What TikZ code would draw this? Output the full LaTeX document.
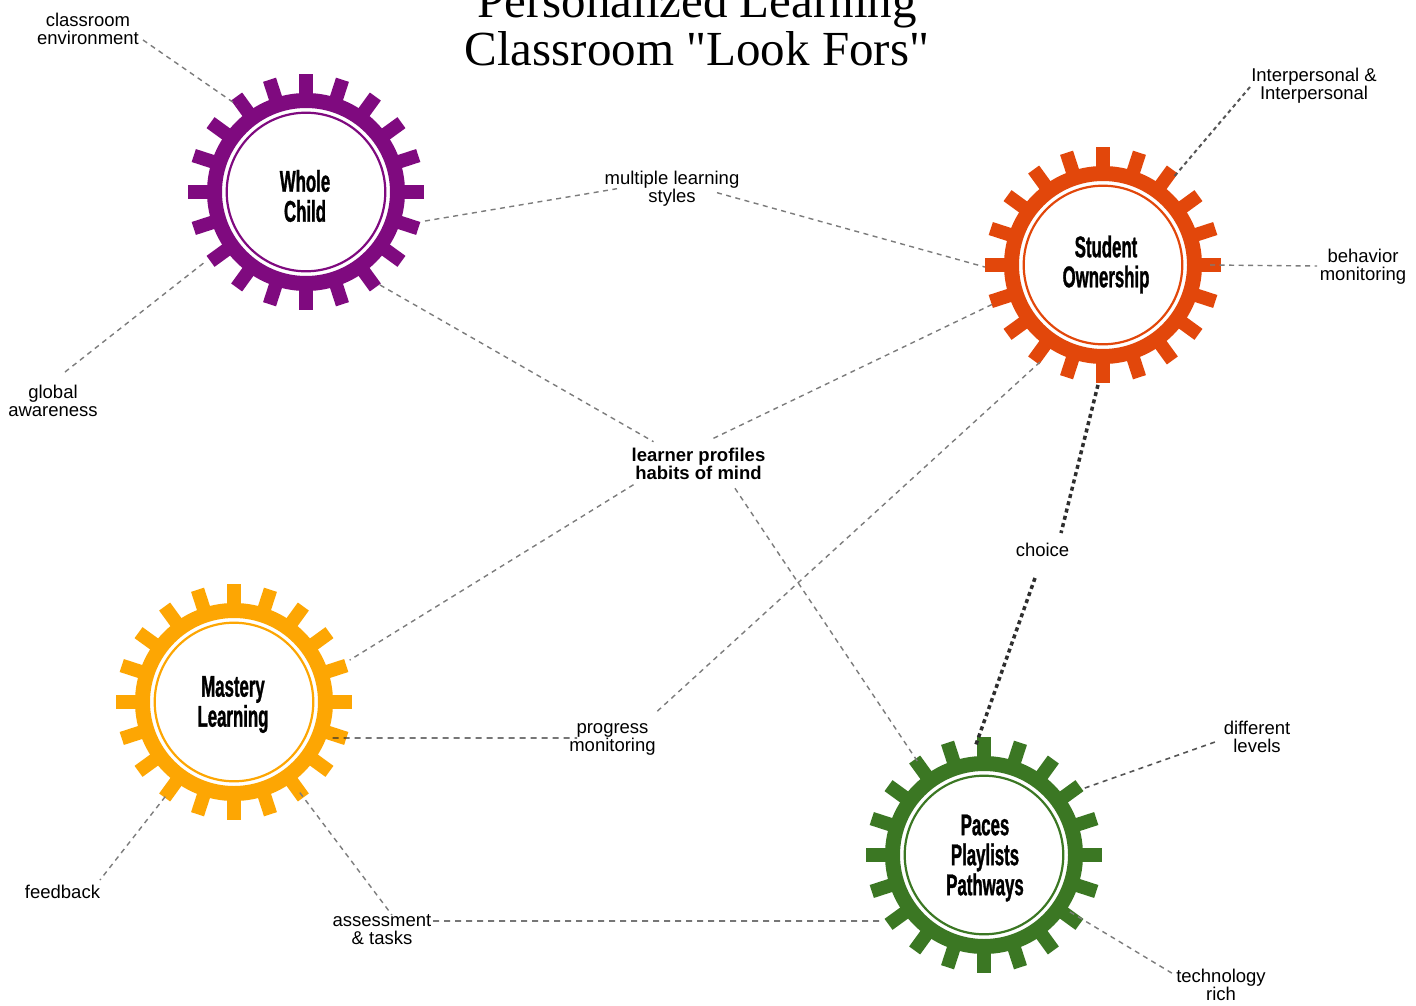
\documentclass[tikz,border=0pt]{standalone}
\usepackage{fontspec}
\setmainfont{Liberation Sans}
\newfontfamily\titlefont{Liberation Serif}
\newfontfamily\gearfont{Liberation Sans}[FakeStretch=0.56,FakeBold=1]
\usetikzlibrary{calc}
\definecolor{cpurple}{HTML}{7F0A7F}
\definecolor{cred}{HTML}{E2470B}
\definecolor{cyellow}{HTML}{FDA603}
\definecolor{cgreen}{HTML}{3B7723}
\definecolor{lgray}{HTML}{7C7C7C}
\definecolor{dgray}{HTML}{2E2E2E}
\definecolor{mgray}{HTML}{555555}
\newcommand\gearshape[2]{%
  \begin{scope}[shift={(#1.center)}]
    \foreach \a in {0,18,...,342}{\fill[#2,rotate=\a] (95,-6.8) rectangle (118,6.8);}
    \fill[#2,even odd rule] (0,0) circle (99) (0,0) circle (84);
    \draw[#2,line width=2.2pt] (0,0) circle (79.3);
  \end{scope}}
\tikzset{
  gearnode/.style={circle,minimum size=236pt,inner sep=0pt},
  geartext/.style={font=\gearfont\bfseries\fontsize{30}{30}\selectfont,align=center,inner sep=0pt},
  lbl/.style={font=\fontsize{18.5}{18}\selectfont,align=center,inner sep=0pt},
  blbl/.style={font=\bfseries\fontsize{18.5}{18.5}\selectfont,align=center,inner sep=0pt},
  conn/.style={draw=lgray,line width=1.4pt,dash pattern=on 5pt off 4.5pt},
  dconn/.style={draw=dgray,line width=1.3pt,dash pattern=on 6pt off 5pt},
  ipconn/.style={draw=mgray,line width=2pt,dash pattern=on 4pt off 3.5pt},
  chconn/.style={draw=dgray,line width=3.5pt,dash pattern=on 4pt off 3.5pt},
}
\begin{document}
\begin{tikzpicture}[x=1pt,y=-1pt]
\fill[white] (0,0) rectangle (1416,1006);
\useasboundingbox (0,0) rectangle (1416,1006);

% title
\node[font=\titlefont\fontsize{49}{48}\selectfont,align=center,inner sep=0pt] (title) at (697,25) {Personalized Learning\\Classroom "Look Fors"};

% gears
\node[gearnode] (wc) at (306,192) {};
\node[gearnode] (so) at (1103,265) {};
\node[gearnode] (ml) at (234,702) {};
\node[gearnode] (pp) at (984,855) {};
\gearshape{wc}{cpurple}
\gearshape{so}{cred}
\gearshape{ml}{cyellow}
\gearshape{pp}{cgreen}
\node[geartext] (wct) at (305,196) {Whole\\Child};
\node[geartext] (sot) at (1106,264.5) {Student\\Ownership};
\node[geartext] (mlt) at (233,704.5) {Mastery\\Learning};
\node[geartext] (ppt) at (985,858) {Paces\\Playlists\\Pathways};

% labels
\node[lbl] (ce) at (88,28.5) {classroom\\environment};
\node[lbl] (ga) at (53,401) {global\\awareness};
\node[lbl] (mls) at (672,188.7) {multiple learning\\styles};
\node[blbl] (lp) at (698.5,463.7) {learner profiles\\habits of mind};
\node[lbl] (il) at (1314,86) {Interpersonal \&\\Interpersonal};
\node[lbl] (bm) at (1363,267) {behavior\\monitoring};
\node[lbl] (ch) at (1042.5,549.5) {choice};
\node[lbl] (pm) at (612.5,739.3) {progress\\monitoring};
\node[lbl] (fb) at (62.5,891.5) {feedback};
\node[lbl] (at) at (382,930) {assessment\\\& tasks};
\node[lbl] (dl) at (1257,736.5) {different\\levels};
\node[lbl] (tr) at (1221,985) {technology\\rich};

% connectors
\draw[conn] ($(ce.center)+(55,11.5)$) -- ($(wc.center)+(-128.4:111)$);
\draw[conn] ($(ga.center)+(12,-29)$) -- ($(wc.center)+(145.3:123)$);
\draw[conn] ($(wc.center)+(13.7:122.5)$) -- ($(mls.center)+(-55,0)$);
\draw[conn] ($(mls.center)+(45,4)$) -- ($(so.center)+(179:118)$);
\draw[conn] ($(wc.center)+(51.5:118.8)$) -- ($(lp.center)+(-45,-22)$);
\draw[conn] ($(lp.center)+(15,-25.4)$) -- ($(so.center)+(160.6:114.5)$);
\draw[conn] ($(lp.center)+(-65,21)$) -- ($(ml.center)+(-19.9:123)$);
\draw[conn] ($(lp.center)+(36.5,24.6)$) -- ($(pp.center)+(-125.4:114)$);
\draw[conn] ($(so.center)+(123:115.7)$) -- ($(pm.center)+(42.5,-26)$);
\draw[dconn] ($(ml.center)+(20:105)$) -- ($(pm.center)+(-35.5,-1.3)$);
\draw[conn] ($(ml.center)+(126:117)$) -- ($(fb.center)+(37.5,-11.5)$);
\draw[conn] ($(ml.center)+(54:112)$) -- ($(at.center)+(10,-15)$);
\draw[dconn] ($(at.center)+(51,-9)$) -- ($(pp.center)+(147.6:123)$);
\draw[chconn] ($(so.center)+(92.4:120)$) -- ($(ch.center)+(18.5,-16.5)$);
\draw[chconn] ($(ch.center)+(-7.5,28.5)$) -- ($(pp.center)+(-94.8:108)$);
\draw[ipconn] ($(il.center)+(-64,1)$) -- ($(so.center)+(-51.2:111.7)$);
\draw[conn] ($(so.center)+(0:107)$) -- ($(bm.center)+(-46,-1)$);
\draw[conn,draw=mgray,line width=1.6pt] ($(pp.center)+(-33.6:121)$) -- ($(dl.center)+(-42,5.5)$);
\draw[conn] ($(pp.center)+(33.5:103)$) -- ($(tr.center)+(-46,-10)$);
\end{tikzpicture}
\end{document}
